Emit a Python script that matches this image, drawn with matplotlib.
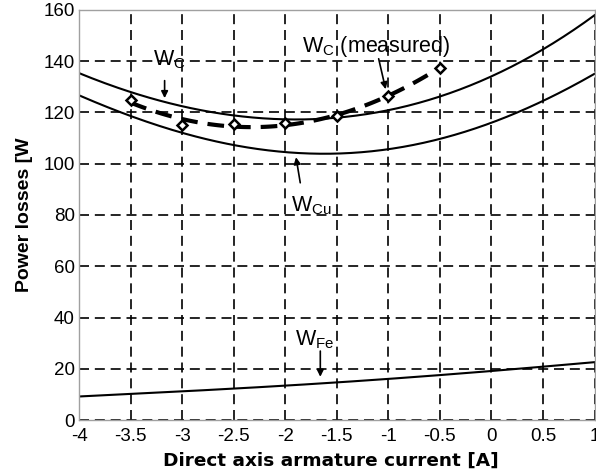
import numpy as np
import matplotlib
matplotlib.use("Agg")
import matplotlib.pyplot as plt

plt.rcParams['font.family'] = ['Liberation Sans', 'DejaVu Sans']
plt.rcParams['mathtext.fontset'] = 'custom'
plt.rcParams['mathtext.rm'] = 'Liberation Sans'
plt.rcParams['mathtext.it'] = 'Liberation Sans'

# data
current = [-4, -3.5, -3, -2.5, -2, -1.5, -1, -0.5, 0, 0.5, 1]
w_c = [135.3, 128.1, 122.3, 119.0, 117.3, 117.5, 121.3, 126.3, 134.0, 144.5, 158.0]
w_cu = [126.8, 118.4, 112.0, 107.5, 104.6, 104.0, 105.6, 109.3, 116.3, 124.6, 135.0]
w_fe = [9.2, 10.2, 11.2, 12.3, 13.4, 14.7, 16.1, 17.5, 19.2, 20.8, 22.6]

meas_current = [-3.5, -3, -2.5, -2, -1.5, -1, -0.5]
meas_loss = [124.9, 115.1, 115.4, 115.8, 118.8, 126.4, 137.5]

xticks = [-4, -3.5, -3, -2.5, -2, -1.5, -1, -0.5, 0, 0.5, 1]
xticklabels = ['-4', '-3.5', '-3', '-2.5', '-2', '-1.5', '-1', '-0.5', '0', '0.5', '1']
yticks = [0, 20, 40, 60, 80, 100, 120, 140, 160]

fig = plt.figure(figsize=(5.96, 4.72), dpi=100)
ax = fig.add_axes([0.1326, 0.110, 0.865, 0.869])

# smooth curves through the read points
xs = np.linspace(-4, 1, 200)
for ys in (w_c, w_cu, w_fe):
    ax.plot(xs, np.polyval(np.polyfit(current, ys, 4), xs), color='black', lw=1.5)

# fitted measured curve
p = np.polyfit(meas_current, meas_loss, 2)
xm = np.linspace(-3.5, -0.5, 100)
ax.plot(xm, np.polyval(p, xm), color='black', lw=3, dashes=(4, 2.4))
ax.plot(meas_current, meas_loss, linestyle='none', marker='D', ms=5.5,
        mfc='white', mec='black', mew=1.8)

ax.set_xlim(-4, 1)
ax.set_ylim(0, 160)
ax.set_xticks(xticks)
ax.set_xticklabels(xticklabels)
ax.set_yticks(yticks)
ax.tick_params(labelsize=13.5, length=0)
ax.tick_params(axis='x', pad=6)
ax.tick_params(axis='y', pad=3)
ax.grid(True, color='black', linestyle=(0, (6, 3.5)), lw=1.2)
for s in ax.spines.values():
    s.set_color('#a0a0a0')
    s.set_linewidth(1)

ax.set_xlabel('Direct axis armature current [A]', fontsize=13.3, fontweight='bold',
              family='DejaVu Sans')
ax.xaxis.set_label_coords(0.489, -0.077)
ax.set_ylabel('Power losses [W', fontsize=14, fontweight='bold')
ax.yaxis.set_label_coords(-0.089, 0.5)

arrow = dict(arrowstyle='-|>', color='black', lw=1.2, mutation_scale=10)
ax.annotate('', xy=(-3.17, 124.5), xytext=(-3.17, 133.5), arrowprops=arrow)
ax.text(-3.283, 138.5, r'W$_{\mathrm{C}}$', fontsize=15.5, va='baseline')

ax.annotate('', xy=(-1.02, 128.0), xytext=(-1.10, 142.0), arrowprops=arrow)
ax.text(-1.84, 143.7, r'W$_{\mathrm{C}}$ (measured)', fontsize=15.5, va='baseline')

ax.annotate('', xy=(-1.90, 103.6), xytext=(-1.85, 91.5), arrowprops=arrow)
ax.text(-1.94, 81.3, r'W$_{\mathrm{Cu}}$', fontsize=15.5, va='baseline')

ax.annotate('', xy=(-1.66, 15.8), xytext=(-1.66, 28.0), arrowprops=arrow)
ax.text(-1.907, 29.3, r'W$_{\mathrm{Fe}}$', fontsize=15.5, va='baseline')

fig.savefig('out.png', dpi=100)
